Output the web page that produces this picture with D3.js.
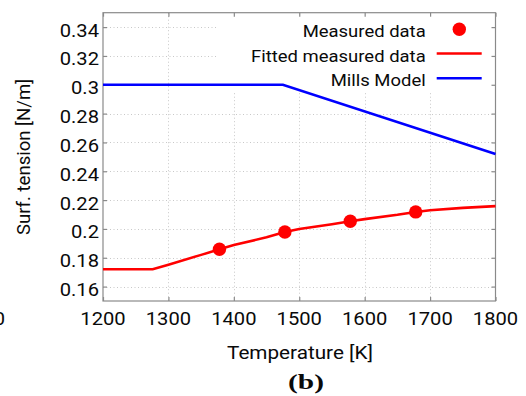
<!DOCTYPE html>
<html><head><meta charset="utf-8">
<script src="https://cdn.jsdelivr.net/npm/d3@7"></script>
<style>body{margin:0;background:#fff} svg{display:block} text{font-family:Roboto,"Noto Sans",sans-serif;fill:#0a0a0a}</style>
</head><body><svg id="c" width="526" height="396"></svg>
<script>
const xTicks = [1200, 1300, 1400, 1500, 1600, 1700, 1800];
const xTickLabels = ["1200", "1300", "1400", "1500", "1600", "1700", "1800"];
const yTicks = [0.16, 0.18, 0.2, 0.22, 0.24, 0.26, 0.28, 0.3, 0.32, 0.34];
const yTickLabels = ["0.16", "0.18", "0.2", "0.22", "0.24", "0.26", "0.28", "0.3", "0.32", "0.34"];

const millsT = [1200, 1475, 1800];
const millsV = [0.300, 0.300, 0.252];

const fitT = [1200, 1276, 1300, 1350, 1378, 1400, 1450, 1478, 1500, 1550, 1578, 1600, 1650, 1678, 1700, 1750, 1800];
const fitV = [0.172, 0.172, 0.1752, 0.1820, 0.1859, 0.1888, 0.1942, 0.1979, 0.2000, 0.2033, 0.2053, 0.2068, 0.2098, 0.2118, 0.2130, 0.2146, 0.2158];

const measT = [1378, 1478, 1578, 1678];
const measV = [0.1859, 0.1979, 0.2053, 0.2118];

const legendLabels = ["Measured data", "Fitted measured data", "Mills Model"];
const xLabel = "Temperature [K]";
const yLabel = "Surf. tension [N/m]";
const panelLabel = "(b)";

const svg = d3.select("#c");
const L = 103, R = 495.5, T = 12.7, B = 301;
const SX = 1.12;
const x = d3.scaleLinear().domain([1200, 1800]).range([L, R]);
const y = d3.scaleLinear().domain([0.15, 0.35]).range([B, T]);

// grid
const grid = svg.append("g").attr("stroke", "#c8c8c8").attr("stroke-width", 1).attr("stroke-dasharray", "1,2.5");
grid.selectAll(".gx").data(xTicks.slice(1, -1)).join("line")
  .attr("x1", d => Math.round(x(d)) + 0.5).attr("x2", d => Math.round(x(d)) + 0.5).attr("y1", T).attr("y2", B);
grid.selectAll(".gy").data(yTicks).join("line")
  .attr("y1", d => Math.round(y(d)) + 0.5).attr("y2", d => Math.round(y(d)) + 0.5).attr("x1", L).attr("x2", R);

// legend background
svg.append("rect").attr("x", 218).attr("y", T).attr("width", R - 218).attr("height", 91 - T).attr("fill", "#fff");

// axes frame with inward ticks
const axCol = "#8a8a8a";
const axB = svg.append("g").attr("transform", `translate(0,${B})`).call(d3.axisBottom(x).tickValues(xTicks).tickSize(-4).tickFormat(""));
const axT = svg.append("g").attr("transform", `translate(0,${T})`).call(d3.axisTop(x).tickValues(xTicks).tickSize(-4).tickFormat(""));
const axL = svg.append("g").attr("transform", `translate(${L},0)`).call(d3.axisLeft(y).tickValues(yTicks).tickSize(-4).tickFormat(""));
const axR = svg.append("g").attr("transform", `translate(${R},0)`).call(d3.axisRight(y).tickValues(yTicks).tickSize(-4).tickFormat(""));
[axB, axT, axL, axR].forEach(a => { a.selectAll("path,line").attr("stroke", axCol).attr("stroke-width", 1.2); a.select(".domain").attr("d", null); });
svg.append("rect").attr("x", L).attr("y", T).attr("width", R - L).attr("height", B - T).attr("fill", "none").attr("stroke", axCol).attr("stroke-width", 1.2);

// tick labels (slightly widened glyphs like the reference)
svg.append("g").selectAll("text").data(xTicks).join("text")
  .attr("transform", d => `translate(${x(d)},324.5) scale(${SX},1)`).attr("text-anchor", "middle").attr("font-size", 18)
  .text((d, i) => xTickLabels[i]);
svg.append("g").selectAll("text").data(yTicks).join("text")
  .attr("transform", d => `translate(99,${y(d) + 9.5}) scale(${SX},1)`).attr("text-anchor", "end").attr("font-size", 18)
  .text((d, i) => yTickLabels[i]);

// lines
const line = d3.line().x(d => x(d[0])).y(d => y(d[1]));
svg.append("path").datum(millsT.map((t, i) => [t, millsV[i]])).attr("d", line)
  .attr("fill", "none").attr("stroke", "#0000ff").attr("stroke-width", 2.6);
svg.append("path").datum(fitT.map((t, i) => [t, fitV[i]])).attr("d", line)
  .attr("fill", "none").attr("stroke", "#ff0000").attr("stroke-width", 2.6);
svg.append("g").selectAll("circle").data(measT.map((t, i) => [t, measV[i]])).join("circle")
  .attr("cx", d => x(d[0])).attr("cy", d => y(d[1])).attr("r", 6.7).attr("fill", "#ff0000");

// legend
const lg = svg.append("g");
const rowsY = [36.5, 61.5, 86];
lg.selectAll("text").data(legendLabels).join("text")
  .attr("transform", (d, i) => `translate(425.7,${rowsY[i]}) scale(${SX},1)`).attr("text-anchor", "end").attr("font-size", 16.5).text(d => d);
lg.append("circle").attr("cx", 459.3).attr("cy", 29.3).attr("r", 6.7).attr("fill", "#ff0000");
lg.append("line").attr("x1", 436.7).attr("x2", 481.7).attr("y1", 53.5).attr("y2", 53.5).attr("stroke", "#ff0000").attr("stroke-width", 2.6);
lg.append("line").attr("x1", 436.7).attr("x2", 481.7).attr("y1", 78.3).attr("y2", 78.3).attr("stroke", "#0000ff").attr("stroke-width", 2.6);

// axis labels
svg.append("text").attr("transform", `translate(300,359) scale(1.15,1)`).attr("text-anchor", "middle").attr("font-size", 18).text(xLabel);
svg.append("text").attr("transform", "translate(30,157) rotate(-90) scale(1.03,1)").attr("text-anchor", "middle").attr("font-size", 18).text(yLabel);
svg.append("text").attr("transform", "translate(306,389) scale(1.4,1)").attr("text-anchor", "middle").attr("font-size", 21).attr("font-weight", "bold")
  .style("font-family", "'Liberation Serif','DejaVu Serif',serif").text(panelLabel);

// clipped tick label from neighbouring panel
svg.append("text").attr("transform", `translate(5,325) scale(${SX},1)`).attr("text-anchor", "end").attr("font-size", 18).text("1800");
</script></body></html>
